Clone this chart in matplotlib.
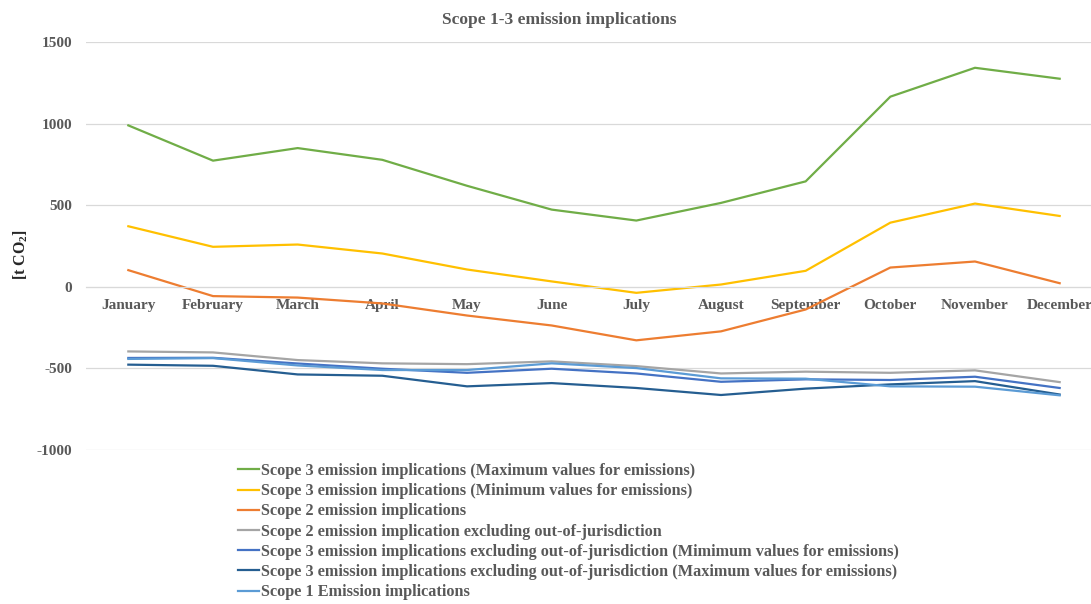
import matplotlib
matplotlib.use("Agg")
import matplotlib.pyplot as plt

months = ["January", "February", "March", "April", "May", "June", "July",
          "August", "September", "October", "November", "December"]

scope3_max = [989, 773, 850, 778, 619, 473, 406, 514, 646, 1165, 1342, 1275]
scope3_min = [371, 245, 259, 204, 106, 33, -37, 14, 98, 393, 510, 434]
scope2 = [102, -57, -66, -102, -176, -237, -328, -273, -139, 118, 155, 22]
scope2_excl = [-396, -402, -449, -469, -474, -457, -486, -531, -520, -527, -512, -584]
scope3_excl_min = [-436, -435, -470, -502, -527, -502, -531, -582, -567, -571, -551, -620]
scope3_excl_max = [-477, -484, -537, -545, -610, -590, -620, -663, -624, -598, -578, -660]
scope1 = [-442, -437, -482, -510, -510, -469, -498, -561, -563, -610, -612, -665]

labels = [
    "Scope 3 emission implications (Maximum values for emissions)",
    "Scope 3 emission implications (Minimum values for emissions)",
    "Scope 2 emission implications",
    "Scope 2 emission implication excluding out-of-jurisdiction",
    "Scope 3 emission implications excluding out-of-jurisdiction (Mimimum values for emissions)",
    "Scope 3 emission implications excluding out-of-jurisdiction (Maximum values for emissions)",
    "Scope 1 Emission implications",
]
series = [scope3_max, scope3_min, scope2, scope2_excl, scope3_excl_min, scope3_excl_max, scope1]
colors = ["#70AD47", "#FFC000", "#ED7D31", "#A5A5A5", "#4472C4", "#255E91", "#5B9BD5"]

plt.rcParams['font.family'] = ['Liberation Serif', 'DejaVu Serif']
plt.rcParams['font.weight'] = 'bold'
plt.rcParams['axes.unicode_minus'] = False
plt.rcParams['mathtext.fontset'] = 'custom'
plt.rcParams['mathtext.rm'] = 'Liberation Serif:bold'
plt.rcParams['mathtext.bf'] = 'Liberation Serif:bold'

txt = "#595959"
fig = plt.figure(figsize=(10.91, 6.04), dpi=100)
ax = fig.add_axes([86/1091, 154/604, 1016/1091, 408/604])

x = list(range(len(months)))
handles = []
for s, c, l in zip(series, colors, labels):
    h, = ax.plot(x, s, color=c, lw=1.6, label=l, solid_joinstyle='round')
    handles.append(h)

ax.set_xlim(-0.5, 11.5)
ax.set_ylim(-1000, 1500)
ax.set_yticks([-1000, -500, 0, 500, 1000, 1500])
ax.grid(axis='y', color='#D9D9D9', lw=0.9)
ax.set_axisbelow(True)
for sp in ['top', 'right', 'left']:
    ax.spines[sp].set_visible(False)
ax.spines['bottom'].set_position(('data', 0))
ax.spines['bottom'].set_color('#D9D9D9')
ax.set_xticks(x)
ax.set_xticklabels(months)
ax.tick_params(axis='x', length=0, pad=9, labelsize=11, labelcolor=txt)
ax.tick_params(axis='y', length=0, pad=10, labelsize=11, labelcolor=txt)

fig.text(559/1091, 1 - 20/604, "Scope 1-3 emission implications", ha='center', va='center',
         fontsize=12.5, fontweight='bold', color=txt)
fig.text(21/1091, 1 - 255/604, r"[t CO$_\mathbf{2}$]", rotation=90, ha='center', va='center',
         fontsize=11.5, fontweight='bold', color='#262626')

leg = fig.legend(handles=handles, loc='upper left', bbox_to_anchor=(238/1091, 1 - 463/604),
                 frameon=False, fontsize=11.7, handlelength=1.3, handletextpad=0.1,
                 labelspacing=0.26, borderaxespad=0, borderpad=0)
for t in leg.get_texts():
    t.set_color(txt)

fig.savefig("out.png", dpi=100)
